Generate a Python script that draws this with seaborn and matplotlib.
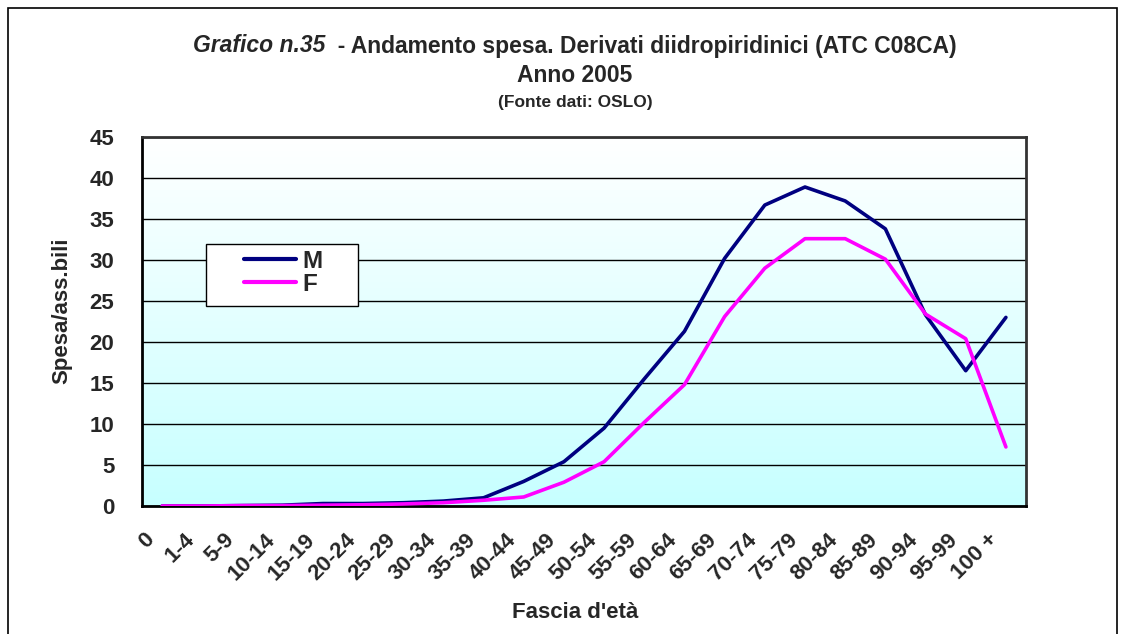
import numpy as np
import pandas as pd
import matplotlib
matplotlib.use("Agg")
import matplotlib.pyplot as plt
from matplotlib.patches import Rectangle
from matplotlib.lines import Line2D
import seaborn as sns

# Age bands and spending per assisted person (Derivati diidropiridinici, 2005)
fasce = ["0", "1-4", "5-9", "10-14", "15-19", "20-24", "25-29", "30-34",
         "35-39", "40-44", "45-49", "50-54", "55-59", "60-64", "65-69",
         "70-74", "75-79", "80-84", "85-89", "90-94", "95-99", "100 +"]
spesa_m = [0.0, 0.0, 0.05, 0.1, 0.3, 0.3, 0.4, 0.6, 1.0, 3.0, 5.4, 9.5,
           15.5, 21.3, 30.2, 36.7, 38.9, 37.2, 33.8, 23.3, 16.5, 23.0]
spesa_f = [0.0, 0.0, 0.05, 0.05, 0.1, 0.15, 0.25, 0.4, 0.7, 1.1, 2.9, 5.4,
           10.2, 14.8, 23.1, 29.0, 32.6, 32.6, 30.1, 23.4, 20.4, 7.2]

df = pd.DataFrame({
    "pos": list(range(len(fasce))) * 2,
    "fascia": fasce * 2,
    "valore": spesa_m + spesa_f,
    "sesso": ["M"] * len(fasce) + ["F"] * len(fasce),
})
colori = {"M": "#000080", "F": "#FF00FF"}

sns.set_theme(style="white")
plt.rcParams["font.family"] = ["Liberation Sans", "DejaVu Sans"]
plt.rcParams["font.weight"] = "bold"

W, H = 1124, 634
fig = plt.figure(figsize=(W / 100, H / 100), dpi=100)
fig.patch.set_facecolor("white")

# plot area in pixel coordinates
L, R, T, B = 142, 1026, 137, 506
ax = fig.add_axes([L / W, 1 - B / H, (R - L) / W, (B - T) / H])

def ax_xy(px, py):
    """pixel position -> axes fraction"""
    return (px - L) / (R - L), (B - py) / (B - T)

# vertical gradient: white at top, light cyan at bottom
grad = np.linspace(0, 1, 256).reshape(-1, 1)
top = np.array([1.0, 1.0, 1.0])
bot = np.array([0.78, 1.0, 1.0])
img = top + (bot - top) * grad
img = np.repeat(img[:, None, :], 2, axis=1).reshape(256, 2, 3)
ax.imshow(img, extent=[0, 1, 0, 1], transform=ax.transAxes,
          aspect="auto", origin="upper", zorder=0)

sns.lineplot(data=df, x="pos", y="valore", hue="sesso", sort=False,
             palette=colori, linewidth=2.6, ax=ax, zorder=3, legend=False)

ax.set_xlim(-0.5, len(fasce) - 0.5)
ax.set_ylim(0, 45)
ax.set_yticks(range(0, 46, 5))
ax.yaxis.grid(True, color="black", linewidth=1.0)
for gl in ax.get_ygridlines():
    gl.set_zorder(1)

# rotated category labels, anchored a little left of each category centre
ax.set_xticks(np.arange(len(fasce)) - 0.27)
ax.set_xticklabels(fasce, rotation=45, ha="right", va="center",
                   rotation_mode="anchor", fontsize=16, fontweight="bold")
ax.set_xticks(np.arange(-0.5, len(fasce), 1.0), minor=True)
ax.tick_params(axis="x", which="major", length=0, pad=22)
ax.tick_params(axis="x", which="minor", length=6, width=1, color="black",
               direction="out")
ax.tick_params(axis="y", length=7, width=1, color="black", direction="out",
               labelsize=16, pad=13)
for lab in ax.get_yticklabels():
    lab.set_fontweight("bold")

for side in ["left", "bottom"]:
    ax.spines[side].set_color("black")
    ax.spines[side].set_linewidth(2.0)
for side in ["top", "right"]:
    ax.spines[side].set_color("#333333")
    ax.spines[side].set_linewidth(2.0)
    ax.spines[side].set_visible(True)

ax.set_xlabel("Fascia d'età", fontsize=16, fontweight="bold")
ax.set_ylabel("Spesa/ass.bili", fontsize=16, fontweight="bold")
ax.xaxis.set_label_coords(*ax_xy(575, 602))
ax.yaxis.set_label_coords(*ax_xy(72, 311))

# legend: white box with the two series keys
lx0, ly0 = ax_xy(206, 306)
lx1, ly1 = ax_xy(358, 244)
ax.add_patch(Rectangle((lx0, ly0), lx1 - lx0, ly1 - ly0, transform=ax.transAxes,
                       facecolor="white", edgecolor="black", linewidth=1.0,
                       zorder=5))
handles = [Line2D([], [], color=colori["M"], linewidth=3.0),
           Line2D([], [], color=colori["F"], linewidth=3.0)]
leg = ax.legend(handles, ["M", "F"], loc="upper left",
                bbox_to_anchor=ax_xy(244, 250), frameon=False,
                prop={"weight": "bold", "size": 17.5}, handlelength=2.15,
                handletextpad=0.25, labelspacing=0.0, borderpad=0.0,
                borderaxespad=0)
leg.set_zorder(6)

# titles: first line mixes an italic prefix with bold text, centred as one
cx = 575
t1 = fig.text(0, 1 - 46 / H, "Grafico n.35", ha="left", va="center",
              fontsize=16.5, fontweight="bold", style="italic")
t2 = fig.text(0, 1 - 46 / H, "  - Andamento spesa. Derivati diidropiridinici (ATC C08CA)",
              ha="left", va="center", fontsize=16.5, fontweight="bold")
renderer = fig.canvas.get_renderer()
w1 = t1.get_window_extent(renderer).width
w2 = t2.get_window_extent(renderer).width
x0 = cx - (w1 + w2) / 2
t1.set_x(x0 / W)
t2.set_x((x0 + w1) / W)
fig.text(cx / W, 1 - 75 / H, "Anno 2005", ha="center", va="center",
         fontsize=16.5, fontweight="bold")
fig.text(cx / W, 1 - 103 / H, "(Fonte dati: OSLO)", ha="center", va="center",
         fontsize=12.5, fontweight="bold")

# outer chart border
fig.patches.append(Rectangle((8 / W, -0.05), (1117 - 8) / W, 1.05 - 8 / H,
                             transform=fig.transFigure, fill=False,
                             edgecolor="black", linewidth=1.2))

fig.savefig("out.png", dpi=100)
